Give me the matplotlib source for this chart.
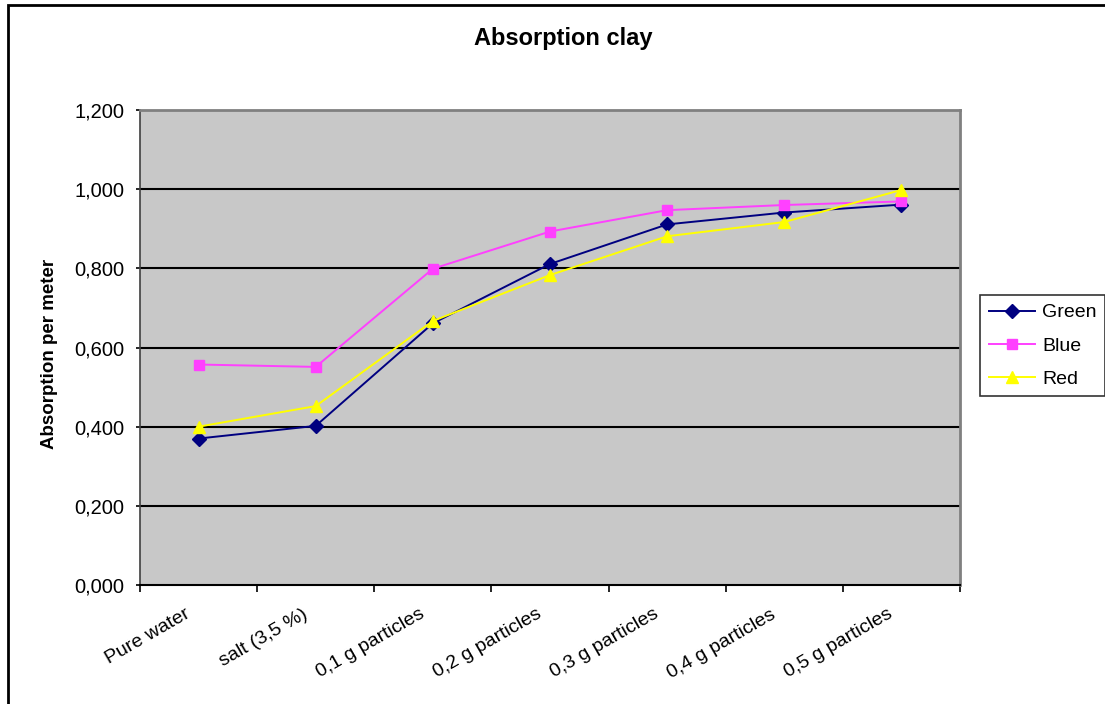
import matplotlib
matplotlib.use("Agg")
import matplotlib.pyplot as plt
from matplotlib.patches import Rectangle
from matplotlib.ticker import FuncFormatter
from matplotlib.transforms import ScaledTranslation

plt.rcParams['font.family'] = ['Liberation Sans', 'DejaVu Sans']

# datos
categorias = ['Pure water', 'salt (3,5 %)', '0,1 g particles', '0,2 g particles',
              '0,3 g particles', '0,4 g particles', '0,5 g particles']
green = [0.370, 0.402, 0.661, 0.811, 0.911, 0.941, 0.961]
blue = [0.557, 0.551, 0.799, 0.893, 0.947, 0.960, 0.969]
red = [0.400, 0.452, 0.667, 0.783, 0.881, 0.917, 0.998]
yticks = [0.0, 0.2, 0.4, 0.6, 0.8, 1.0, 1.2]

W, H = 1105, 704
fig = plt.figure(figsize=(W / 100, H / 100), dpi=100)
fig.patch.set_facecolor('white')

# marco exterior del grafico
fig.patches.append(Rectangle((8 / W, -0.1), 1.2, 1 - 5 / H + 0.1, transform=fig.transFigure,
                             fill=False, edgecolor='black', linewidth=2))

ax = fig.add_axes([140 / W, (H - 585) / H, 820 / W, 475 / H])
ax.set_facecolor('#C8C8C8')

x = list(range(len(categorias)))
ax.plot(x, green, color='#000080', marker='D', markersize=7, linewidth=1.4, label='Green')
ax.plot(x, blue, color='#FF40FF', marker='s', markersize=7, linewidth=1.4, label='Blue')
ax.plot(x, red, color='#FFFF00', marker='^', markersize=9, linewidth=1.4, label='Red')

ax.set_xlim(-0.5, len(categorias) - 0.5)
ax.set_ylim(0, 1.2)
ax.set_yticks(yticks)
ax.yaxis.set_major_formatter(FuncFormatter(lambda v, p: f"{v:.3f}".replace('.', ',')))
for v in yticks[1:-1]:
    ax.axhline(v, color='black', linewidth=1.5, zorder=1)

ax.set_xticks(x)
ax.set_xticklabels(categorias, rotation=30, ha='right', rotation_mode='anchor')
ax.set_xticks([i - 0.5 for i in range(len(categorias) + 1)], minor=True)
ax.tick_params(axis='x', which='major', length=0, pad=15, labelsize=14)
ax.tick_params(axis='x', which='minor', length=5, width=1.2, direction='out')
ax.tick_params(axis='y', length=3, width=1.2, direction='out', labelsize=14.5, pad=8)
# mover etiquetas un poco a la izquierda
desplaza = ScaledTranslation(-14 / 100, 0, fig.dpi_scale_trans)
for lbl in ax.get_xticklabels():
    lbl.set_transform(lbl.get_transform() + desplaza)

for s in ['top', 'right']:
    ax.spines[s].set_color('#808080')
    ax.spines[s].set_linewidth(2)
ax.spines['left'].set_color('#404040')
ax.spines['bottom'].set_color('black')
ax.spines['left'].set_linewidth(1.2)
ax.spines['bottom'].set_linewidth(1.5)

fig.text(563 / W, 1 - 38 / H, 'Absorption clay', ha='center', va='center',
         fontsize=17, fontweight='bold')
fig.text(50 / W, 1 - 354 / H, 'Absorption per meter', ha='center', va='center',
         rotation=90, fontsize=13.5, fontweight='bold')

leg = fig.legend(loc='upper left', bbox_to_anchor=(980 / W, 1 - 295 / H), borderaxespad=0,
                 fontsize=14, frameon=True, fancybox=False, edgecolor='black',
                 labelspacing=0.8, handlelength=2.4, handletextpad=0.35, borderpad=0.45)
leg.get_frame().set_linewidth(1.2)

fig.savefig('out.png', dpi=100)
